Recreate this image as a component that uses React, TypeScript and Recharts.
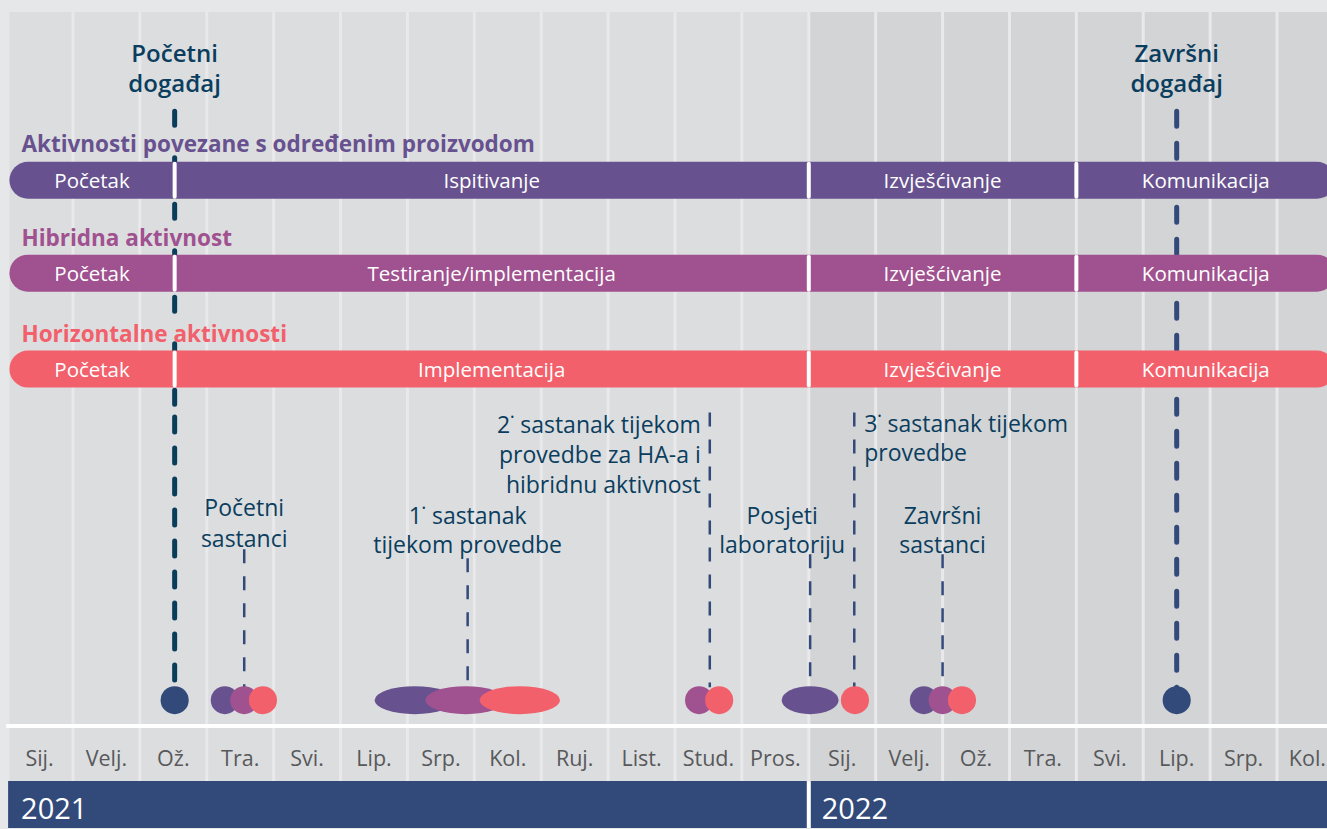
import React from "react";
import { ComposedChart, XAxis, YAxis, ReferenceArea, ReferenceLine, Scatter } from "recharts";

// ---- data (x = months since Jan 2021) ----
const monthLabels = ["Sij.", "Velj.", "Ož.", "Tra.", "Svi.", "Lip.", "Srp.", "Kol.", "Ruj.", "List.", "Stud.", "Pros.",
    "Sij.", "Velj.", "Ož.", "Tra.", "Svi.", "Lip.", "Srp.", "Kol."];
const yearLabels = ["2021", "2022"];
const yearStart = [0.03, 12];
const yearEnd = [12, 20];

const trackTitles = ["Aktivnosti povezane s određenim proizvodom", "Hibridna aktivnost", "Horizontalne aktivnosti"];
const phaseBounds = [0.05, 2.52, 12, 16, 19.87];
const phaseLabels = [
    ["Početak", "Ispitivanje", "Izvješćivanje", "Komunikacija"],
    ["Početak", "Testiranje/implementacija", "Izvješćivanje", "Komunikacija"],
    ["Početak", "Implementacija", "Izvješćivanje", "Komunikacija"],
];

const eventTitles = [["Početni", "događaj"], ["Završni", "događaj"]];
const eventMonths = [2.52, 17.5];

const meetingTitles = [
    ["Početni", "sastanci"],
    ["1˙ sastanak", "tijekom provedbe"],
    ["2˙ sastanak tijekom", "provedbe za HA-a i", "hibridnu aktivnost"],
    ["Posjeti", "laboratoriju"],
    ["3˙ sastanak tijekom", "provedbe"],
    ["Završni", "sastanci"],
];
const meetingMonths = [3.56, 6.9, 10.52, 12.02, 12.68, 14.0];

// meeting dots: track index, centre month, length in months
const dotTrack = [0, 1, 2, 0, 1, 2, 1, 2, 0, 2, 0, 1, 2];
const dotMonth = [3.27, 3.56, 3.84, 6.11, 6.87, 7.68, 10.36, 10.66, 12.02, 12.69, 13.72, 14.0, 14.29];
const dotLength = [0.42, 0.42, 0.42, 1.2, 1.2, 1.2, 0.42, 0.42, 0.85, 0.42, 0.42, 0.42, 0.42];
const eventDotLength = 0.42;

// ---- layout / style ----
const W = 1327;
const H = 829;
const FONT = "'Open Sans', 'Noto Sans', sans-serif";
const X_MIN = -0.091;
const X_MAX = 19.747;
const PLOT_TOP = 12;
const AXIS_LINE_Y = 727;
const MONTH_LABEL_Y = 757;
const YEAR_TOP = 782;
const YEAR_LABEL_Y = 808;
const BAR_TOP = [162, 255, 351];
const BAR_H = 37;
const TITLE_Y = [143, 237, 333];
const DOT_Y = 701;
const DOT_R = 14;
const EVENT_LABEL_Y = 52;
const DOT_BOTTOM_LINE = 688;

const trackColors = ["#67528f", "#a0518f", "#f2606b"];
const navy = "#324a7a";
const eventLineColors = ["#0a3d5c", navy];
const labelColor = "#0b3e5e";
const col2021 = "#dcdddf";
const col2022 = "#d3d4d6";

const eventSegments = [
    [{ from: 111.5, to: 405, dash: "14 32.5" }, { from: 417.5, to: 684, dash: "15 16" }],
    [{ from: 111.5, to: 690, dash: "15 17" }],
];
const meetingLabelTop = [508, 516, 425, 516, 424, 516];
const meetingLineTop = [550, 559, 413, 555, 413, 555];
const meetingAnchor = ["middle", "middle", "end", "middle", "start", "middle"];
const meetingDx = [0, 0, -9, -28, 10, 0];
const meetingLineHeight = [31, 29, 30, 29, 29, 29];

type TextPoint = {
    x: number; y: number; lines: string[]; fill: string; size: number;
    weight: number; anchor: string; dx: number; lh: number;
};

const texts: TextPoint[] = [];
trackTitles.forEach((t, i) =>
    texts.push({ x: phaseBounds[0], y: TITLE_Y[i], lines: [t], fill: trackColors[i], size: 22.5, weight: 700, anchor: "start", dx: 12, lh: 0 })
);
phaseLabels.forEach((row, t) =>
    row.forEach((label, k) =>
        texts.push({
            x: (phaseBounds[k] + phaseBounds[k + 1]) / 2, y: BAR_TOP[t] + BAR_H / 2, lines: [label],
            fill: "#ffffff", size: 20.5, weight: 400, anchor: "middle", dx: 0, lh: 0,
        })
    )
);
eventTitles.forEach((lines, i) =>
    texts.push({ x: eventMonths[i], y: EVENT_LABEL_Y, lines, fill: labelColor, size: 24, weight: 600, anchor: "middle", dx: 0, lh: 30 })
);
meetingTitles.forEach((lines, i) =>
    texts.push({
        x: meetingMonths[i], y: meetingLabelTop[i], lines, fill: labelColor, size: 23, weight: 500,
        anchor: meetingAnchor[i], dx: meetingDx[i], lh: meetingLineHeight[i],
    })
);
yearLabels.forEach((y, i) =>
    texts.push({ x: yearStart[i], y: YEAR_LABEL_Y, lines: [y], fill: "#ffffff", size: 29, weight: 400, anchor: "start", dx: 13, lh: 0 })
);

const TextShape = (p: any) => {
    const d: TextPoint = p.payload;
    const x = p.cx + d.dx;
    return (
        <text x={x} y={p.cy} textAnchor={d.anchor as any} dominantBaseline="central" fill={d.fill}
            fontSize={d.size} fontWeight={d.weight} fontFamily={FONT}>
            {d.lines.map((l, i) => (
                <tspan key={i} x={x} dy={i === 0 ? 0 : d.lh}>{l}</tspan>
            ))}
        </text>
    );
};

// month tick; a label that would run past the right edge is right-aligned to it
const MonthTick = (p: any) => {
    const atEdge = p.x + 22 > W;
    return (
        <text x={atEdge ? W - 1 : p.x} y={MONTH_LABEL_Y} textAnchor={atEdge ? "end" : "middle"}
            dominantBaseline="central" fill="#58595b" fontSize={21.5} fontFamily={FONT}>
            {monthLabels[Math.floor(Number(p.payload?.value))]}
        </text>
    );
};

const pill = (fill: string) => (p: any) => (
    <rect x={p.x} y={p.y} width={p.width} height={p.height} rx={p.height / 2} fill={fill} />
);

const ellipse = (fill: string) => (p: any) => (
    <ellipse cx={p.x + p.width / 2} cy={p.y + p.height / 2} rx={p.width / 2} ry={p.height / 2} fill={fill} />
);

export default function App() {
    return (
        <div style={{ width: W, height: H, background: "#e6e7e9" }}>
            <style>{`body{margin:0}`}</style>
            <ComposedChart width={W} height={H} margin={{ top: 0, right: 0, bottom: 0, left: 0 }}>
                <XAxis
                    type="number"
                    dataKey="x"
                    domain={[X_MIN, X_MAX]}
                    allowDataOverflow
                    ticks={monthLabels.map((_, i) => i + 0.5)}
                    interval={0}
                    tick={<MonthTick />}
                    axisLine={false}
                    tickLine={false}
                    height={1}
                />
                <YAxis type="number" dataKey="y" domain={[0, H]} reversed hide allowDataOverflow />

                {/* month columns */}
                {monthLabels.map((_, i) => (
                    <ReferenceArea
                        key={`col${i}`}
                        x1={i === 0 ? phaseBounds[0] : i}
                        x2={i + 1}
                        y1={PLOT_TOP}
                        y2={YEAR_TOP}
                        fill={i < 12 ? col2021 : col2022}
                        fillOpacity={1}
                        stroke="none"
                        ifOverflow="visible"
                        zIndex={1}
                    />
                ))}
                {monthLabels.slice(1).map((_, i) => (
                    <ReferenceLine
                        key={`sep${i}`}
                        segment={[{ x: i + 1, y: PLOT_TOP }, { x: i + 1, y: YEAR_TOP }]}
                        stroke="#e9e9eb"
                        strokeWidth={3}
                        ifOverflow="visible"
                        zIndex={2}
                    />
                ))}
                <ReferenceLine
                    segment={[{ x: 0, y: AXIS_LINE_Y }, { x: 20, y: AXIS_LINE_Y }]}
                    stroke="#ffffff"
                    strokeWidth={4}
                    ifOverflow="visible"
                    zIndex={3}
                />

                {/* years */}
                {yearLabels.map((y, i) => (
                    <ReferenceArea
                        key={`year${y}`}
                        x1={yearStart[i]}
                        x2={yearEnd[i]}
                        y1={YEAR_TOP}
                        y2={H}
                        fill={navy}
                        fillOpacity={1}
                        stroke="none"
                        ifOverflow="visible"
                        zIndex={3}
                    />
                ))}
                <ReferenceLine
                    segment={[{ x: yearStart[1], y: YEAR_TOP }, { x: yearStart[1], y: H }]}
                    stroke="#ffffff"
                    strokeWidth={4}
                    ifOverflow="visible"
                    zIndex={4}
                />

                {/* event lines */}
                {eventSegments.map((segs, i) =>
                    segs.map((s, j) => (
                        <ReferenceLine
                            key={`ev${i}-${j}`}
                            segment={[{ x: eventMonths[i], y: s.from }, { x: eventMonths[i], y: s.to }]}
                            stroke={eventLineColors[i]}
                            strokeWidth={5}
                            strokeDasharray={s.dash}
                            strokeLinecap="round"
                            ifOverflow="visible"
                            zIndex={4}
                        />
                    ))
                )}

                {/* meeting lines */}
                {meetingMonths.map((m, i) => (
                    <ReferenceLine
                        key={`ml${i}`}
                        segment={[{ x: m, y: meetingLineTop[i] }, { x: m, y: DOT_BOTTOM_LINE }]}
                        stroke={navy}
                        strokeWidth={2.5}
                        strokeDasharray="14 13"
                        ifOverflow="visible"
                        zIndex={4}
                    />
                ))}

                {/* activity tracks */}
                {trackTitles.map((t, i) => (
                    <ReferenceArea
                        key={`track${i}`}
                        x1={phaseBounds[0]}
                        x2={phaseBounds[phaseBounds.length - 1]}
                        y1={BAR_TOP[i]}
                        y2={BAR_TOP[i] + BAR_H}
                        shape={pill(trackColors[i])}
                        ifOverflow="visible"
                        zIndex={5}
                    />
                ))}
                {trackTitles.map((t, i) =>
                    phaseBounds.slice(1, -1).map((b, k) => (
                        <ReferenceLine
                            key={`ps${i}-${k}`}
                            segment={[{ x: b, y: BAR_TOP[i] + 2 }, { x: b, y: BAR_TOP[i] + BAR_H - 2 }]}
                            stroke="#ffffff"
                            strokeWidth={4}
                            strokeLinecap="round"
                            ifOverflow="visible"
                            zIndex={6}
                        />
                    ))
                )}

                {/* dots */}
                {eventMonths.map((m, i) => (
                    <ReferenceArea
                        key={`ed${i}`}
                        x1={m - eventDotLength / 2}
                        x2={m + eventDotLength / 2}
                        y1={DOT_Y - DOT_R}
                        y2={DOT_Y + DOT_R}
                        shape={ellipse(navy)}
                        ifOverflow="visible"
                        zIndex={7}
                    />
                ))}
                {dotMonth.map((m, i) => (
                    <ReferenceArea
                        key={`dot${i}`}
                        x1={m - dotLength[i] / 2}
                        x2={m + dotLength[i] / 2}
                        y1={DOT_Y - DOT_R}
                        y2={DOT_Y + DOT_R}
                        shape={ellipse(trackColors[dotTrack[i]])}
                        ifOverflow="visible"
                        zIndex={7}
                    />
                ))}

                <Scatter data={texts} shape={TextShape} isAnimationActive={false} />
            </ComposedChart>
        </div>
    );
}
